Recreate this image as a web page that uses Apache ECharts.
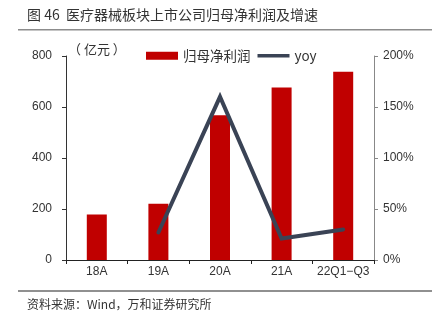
<!DOCTYPE html>
<html>
<head>
<meta charset="utf-8">
<script src="https://cdn.jsdelivr.net/npm/echarts@6/dist/echarts.min.js"></script>
<style>
  html, body { margin: 0; padding: 0; background: #fff; }
  #chart { width: 432px; height: 326px; }
</style>
</head>
<body>
<div id="chart"></div>
<script>
// Net profit attributable to parent (亿元) and year-over-year growth (%)
const categories = ['18A', '19A', '20A', '21A', '22Q1\u2212Q3'];
const netProfit = [178, 221, 568, 676, 738];
const yoy = [null, 27, 160, 21, 30];
const leftTicks = [0, 200, 400, 600, 800];
const rightTicks = [0, 50, 100, 150, 200];

const FONT = '"Liberation Sans", "Noto Sans CJK SC", sans-serif';
const CJK = '"Noto Sans CJK SC", sans-serif';

const chart = echarts.init(document.getElementById('chart'), null, { renderer: 'canvas' });
chart.setOption({
  animation: false,
  backgroundColor: '#fff',
  textStyle: { fontFamily: FONT },
  graphic: [
    { type: 'text', left: 27, top: 8,
      style: { text: '图 46  医疗器械板块上市公司归母净利润及增速', font: '14px ' + CJK, fill: '#333' } },
    { type: 'rect', shape: { x: 18, y: 29, width: 414, height: 1.5 }, style: { fill: '#8c8c8c' } },
    { type: 'rect', shape: { x: 18, y: 290.5, width: 414, height: 1 }, style: { fill: '#222' } },
    { type: 'text', left: 27, top: 298,
      style: { text: '资料来源：Wind，万和证券研究所', font: '12px ' + CJK, fill: '#333' } },
    { type: 'text', left: 68, top: 43,
      style: { text: '（ 亿元 ）', font: '13px ' + CJK, fill: '#333' } }
  ],
  legend: {
    top: 44, left: 141,
    itemGap: 7,
    itemWidth: 32, itemHeight: 8,
    textStyle: { fontFamily: CJK, fontSize: 13.5, color: '#333' },
    data: [
      { name: '归母净利润', icon: 'rect' },
      { name: 'yoy', icon: 'path://M0,0 L32,0 L32,3.5 L0,3.5 Z' }
    ]
  },
  grid: { left: 66, right: 58, top: 56, bottom: 66, containLabel: false },
  xAxis: {
    type: 'category',
    data: categories,
    axisLine: { lineStyle: { color: '#222', width: 1 } },
    axisTick: { show: true, length: 4, lineStyle: { color: '#222' } },
    axisLabel: { color: '#333', fontSize: 12, margin: 6, fontFamily: FONT, interval: 0 }
  },
  yAxis: [
    {
      type: 'value', min: leftTicks[0], max: leftTicks[leftTicks.length - 1], interval: 200,
      axisLine: { show: true, lineStyle: { color: '#333' } },
      axisTick: { show: true, length: 4, lineStyle: { color: '#333' } },
      splitLine: { show: false },
      axisLabel: { color: '#333', fontSize: 12, margin: 14, fontFamily: FONT }
    },
    {
      type: 'value', min: rightTicks[0], max: rightTicks[rightTicks.length - 1], interval: 50,
      position: 'right',
      axisLine: { show: true, lineStyle: { color: '#888' } },
      axisTick: { show: true, length: 4, lineStyle: { color: '#888' } },
      splitLine: { show: false },
      axisLabel: { color: '#333', fontSize: 12, margin: 9, fontFamily: FONT, formatter: '{value}%' }
    }
  ],
  series: [
    {
      name: '归母净利润', type: 'bar', data: netProfit, barWidth: 20,
      itemStyle: { color: '#c00000' }
    },
    {
      name: 'yoy', type: 'line', yAxisIndex: 1, data: yoy,
      symbol: 'none', connectNulls: false,
      lineStyle: { color: '#3a4355', width: 4, cap: 'round', join: 'miter' },
      itemStyle: { color: '#3a4355' }
    }
  ]
});
</script>
</body>
</html>
